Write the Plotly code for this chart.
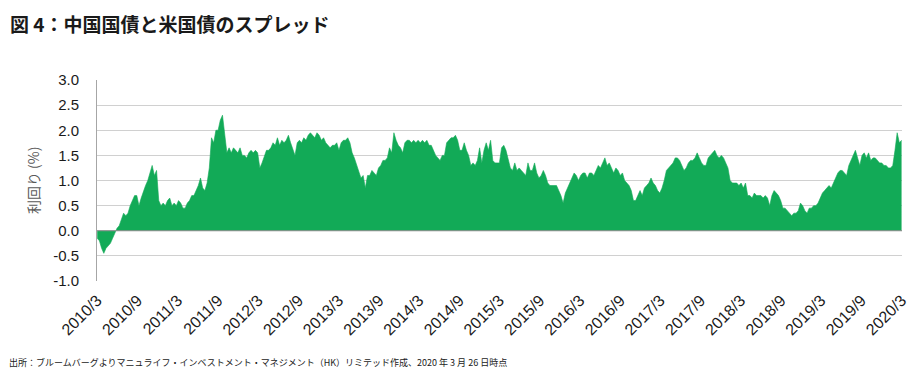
import numpy as np
import pandas as pd
import plotly.graph_objects as go

# ---- data (spread, %; sampled ~every 10 days from 2010-03-26 to 2020-03-26) ----
start_date = "2010-03-26"
end_date = "2020-03-26"

spread_2010_2012 = [
    -0.15, -0.2, -0.35, -0.45, -0.35, -0.3, -0.25, -0.15, -0.05, 0.05,
    0.1, 0.25, 0.35, 0.3, 0.35, 0.5, 0.6, 0.7, 0.7, 0.5,
    0.65, 0.8, 0.9, 1.0, 1.15, 1.3, 1.1, 1.2, 0.6, 0.5,
    0.55, 0.5, 0.6, 0.65, 0.5, 0.55, 0.5, 0.6, 0.55, 0.45,
    0.45, 0.55, 0.6, 0.7, 0.7, 0.8, 0.9, 1.05, 0.85, 0.8,
    0.95, 1.25, 1.85, 1.75, 2.0, 2.0, 2.2, 2.3, 1.9, 1.55,
    1.65, 1.55, 1.65, 1.6, 1.55, 1.65, 1.5, 1.5, 1.45, 1.55,
    1.6, 1.55, 1.6, 1.55,
]
spread_2012_2014 = [
    1.25, 1.35, 1.5, 1.6, 1.6, 1.65, 1.75, 1.7, 1.85, 1.7,
    1.8, 1.75, 1.8, 1.9, 1.75, 1.6, 1.5, 1.75, 1.8, 1.75,
    1.85, 1.8, 1.9, 1.95, 1.9, 1.85, 1.95, 1.9, 1.8, 1.85,
    1.75, 1.7, 1.65, 1.7, 1.7, 1.75, 1.6, 1.75, 1.8, 1.8,
    1.85, 1.75, 1.55, 1.45, 1.3, 1.2, 1.05, 1.1, 0.85, 1.1,
    1.1, 1.2, 1.15, 1.1, 1.25, 1.3, 1.4, 1.4, 1.45, 1.65,
    1.55, 1.95, 1.8, 1.7, 1.65, 1.55, 1.75, 1.8, 1.8, 1.75,
    1.8, 1.75, 1.8, 1.75,
]
spread_2014_2016 = [
    1.8, 1.75, 1.8, 1.7, 1.7, 1.6, 1.5, 1.45, 1.4, 1.5,
    1.5, 1.75, 1.8, 1.85, 1.85, 1.9, 1.8, 1.6, 1.6, 1.75,
    1.6, 1.5, 1.3, 1.35, 1.3, 1.4, 1.65, 1.35, 1.6, 1.75,
    1.6, 1.8, 1.4, 1.35, 1.35, 1.35, 1.65, 1.7, 1.6, 1.45,
    1.25, 1.2, 1.35, 1.2, 1.25, 1.2, 1.15, 1.1, 1.35, 1.2,
    1.2, 1.35, 1.15, 1.05, 1.1, 1.2, 1.1, 0.95, 0.9, 0.9,
    0.9, 0.9, 0.8, 0.7, 0.55, 0.75, 0.85, 0.95, 1.05, 1.15,
    1.1, 1.0, 1.1, 1.15,
]
spread_2016_2018 = [
    1.15, 1.05, 1.15, 1.15, 1.1, 1.2, 1.3, 1.25, 1.35, 1.45,
    1.3, 1.35, 1.25, 1.15, 1.25, 1.2, 1.1, 1.15, 1.0, 0.95,
    0.9, 0.8, 0.6, 0.6, 0.7, 0.8, 0.7, 0.85, 0.9, 0.95,
    1.05, 0.95, 0.9, 0.8, 0.75, 0.85, 1.0, 1.2, 1.25, 1.3,
    1.35, 1.45, 1.45, 1.4, 1.3, 1.2, 1.25, 1.35, 1.4, 1.4,
    1.45, 1.55, 1.45, 1.35, 1.3, 1.3, 1.45, 1.5, 1.55, 1.6,
    1.5, 1.45, 1.5, 1.45, 1.35, 1.25, 1.0, 0.95, 0.95, 0.95,
    0.9, 0.95, 0.85, 0.95,
]
spread_2018_2020 = [
    0.7, 0.7, 0.65, 0.75, 0.7, 0.7, 0.7, 0.65, 0.7, 0.65,
    0.5, 0.7, 0.8, 0.75, 0.7, 0.6, 0.45, 0.45, 0.4, 0.35,
    0.3, 0.35, 0.35, 0.4, 0.55, 0.5, 0.4, 0.35, 0.45, 0.45,
    0.5, 0.5, 0.55, 0.65, 0.75, 0.8, 0.85, 0.9, 0.85, 0.95,
    1.05, 1.15, 1.2, 1.2, 1.15, 1.1, 1.3, 1.4, 1.5, 1.6,
    1.45, 1.3, 1.5, 1.55, 1.45, 1.55, 1.4, 1.45, 1.45, 1.4,
    1.35, 1.35, 1.3, 1.3, 1.25, 1.25, 1.3, 1.6, 1.95, 1.75,
    1.8,
]

y_tick_values = [-1.0, -0.5, 0.0, 0.5, 1.0, 1.5, 2.0, 2.5, 3.0]
y_tick_labels = ["-1.0", "-0.5", "0.0", "0.5", "1.0", "1.5", "2.0", "2.5", "3.0"]

x_tick_labels = [
    "2010/3", "2010/9", "2011/3", "2011/9", "2012/3", "2012/9", "2013/3",
    "2013/9", "2014/3", "2014/9", "2015/3", "2015/9", "2016/3", "2016/9",
    "2017/3", "2017/9", "2018/3", "2018/9", "2019/3", "2019/9", "2020/3",
]

title_text = "図 4：中国国債と米国債のスプレッド"
y_axis_title = "利回り (%)"
source_text = ("出所：ブルームバーグよりマニュライフ・インベストメント・マネジメント（HK）"
               "リミテッド作成、2020 年 3 月 26 日時点")

# ---- build ----
values = (spread_2010_2012 + spread_2012_2014 + spread_2014_2016
          + spread_2016_2018 + spread_2018_2020)
t0 = pd.Timestamp(start_date)
t1 = pd.Timestamp(end_date)
dates = pd.to_datetime(np.linspace(t0.value, t1.value, len(values)))

x_tick_dates = []
for lab in x_tick_labels:
    yy, mm = lab.split("/")
    x_tick_dates.append(pd.Timestamp(int(yy), int(mm), 26))

GREEN = "#12AA57"
JP = "Noto Sans CJK JP"
LAT = "Liberation Sans, Arial, sans-serif"

fig = go.Figure()
fig.add_trace(go.Scatter(
    x=dates, y=values, mode="lines", fill="tozeroy",
    line=dict(color=GREEN, width=0.6), fillcolor=GREEN,
    hoverinfo="x+y", showlegend=False,
))

# page body has an 8px margin: the figure's origin sits at (8, 8) of the window
OFF = 8
W, H = 901, 366
L, R, T, B = 97 - OFF, 0, 80 - OFF, (OFF + H) - 281
PW, PH = W - L - R, H - T - B


def px_x(x):  # window x -> paper coordinate
    return (x - OFF - L) / PW


def px_y(y):  # window y -> paper coordinate
    return (OFF + H - B - y) / PH


fig.update_layout(
    width=W, height=H,
    margin=dict(l=L, r=R, t=T, b=B),
    paper_bgcolor="white", plot_bgcolor="white",
    xaxis=dict(
        range=[t0 - pd.Timedelta(days=1), t1 + pd.Timedelta(days=2)],
        tickvals=x_tick_dates, ticktext=x_tick_labels,
        tickangle=-45, showgrid=False, showline=False, zeroline=False,
        ticks="", ticklabelstandoff=6, ticklabeloverflow="allow",
        tickfont=dict(family=LAT, size=16, color="#1a1a1a"),
    ),
    yaxis=dict(
        range=[-1.0, 3.0], tickvals=y_tick_values, ticktext=y_tick_labels,
        showgrid=True, gridcolor="#d0d0d0", gridwidth=1,
        zeroline=False, showline=True, linecolor="#a6a6a6", linewidth=1,
        ticks="", ticklabelstandoff=14,
        tickfont=dict(family=LAT, size=15, color="#1a1a1a"),
    ),
    shapes=[dict(type="line", xref="paper", x0=0, x1=1, yref="y", y0=0, y1=0,
                 line=dict(color="#8c8c8c", width=1.2), layer="above")],
    annotations=[
        dict(text="<b>" + title_text + "</b>", xref="paper", yref="paper",
             x=px_x(7), y=px_y(OFF), xanchor="left", yanchor="top",
             showarrow=False, font=dict(family=JP, size=19, color="#1a1a1a")),
        dict(text=y_axis_title, textangle=-90, xref="paper", yref="paper",
             x=px_x(32), y=0.5, xanchor="center", yanchor="middle",
             showarrow=False, font=dict(family=JP, size=14, color="#595959")),
        dict(text=source_text, xref="paper", yref="paper",
             x=px_x(6), y=px_y(362), xanchor="left", yanchor="middle",
             showarrow=False, font=dict(family=JP, size=9, color="#1a1a1a")),
    ],
)

fig.write_html("out.html")
